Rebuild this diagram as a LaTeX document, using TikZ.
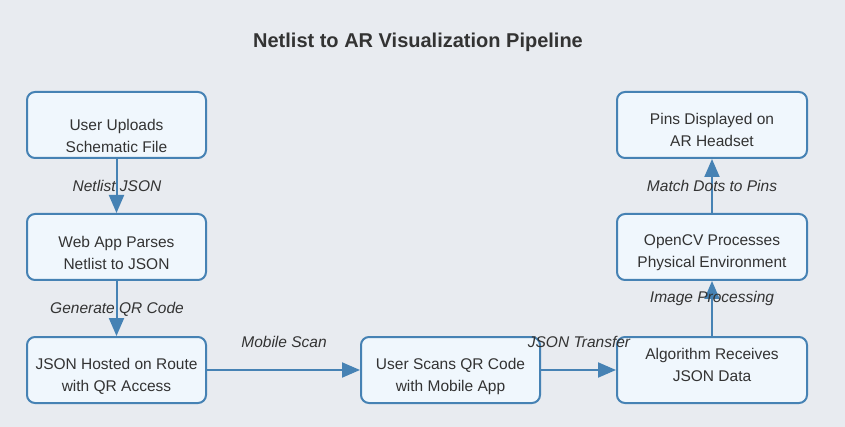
\documentclass[tikz,border=0pt]{standalone}
\usepackage{fontspec}
\setmainfont{Liberation Sans}
\usetikzlibrary{arrows.meta}
\definecolor{bg}{HTML}{E8EBF0}
\definecolor{boxfill}{HTML}{F0F7FD}
\definecolor{edge}{HTML}{4682B4}
\definecolor{txt}{HTML}{333333}
\begin{document}
\begin{tikzpicture}[x=1pt,y=-1pt,
  stage/.style={draw=edge, fill=boxfill, line width=2pt, rounded corners=8pt,
    minimum width=179pt, minimum height=66pt, inner sep=0pt},
  wide/.style={minimum width=190pt},
  btext/.style={text=txt, font=\fontsize{15.5}{22}\selectfont, align=center, inner sep=0pt},
  flow/.style={draw=edge, line width=2pt, -{Triangle[length=18pt,width=15pt]}},
  lbl/.style={text=txt, font=\fontsize{15.5}{18}\selectfont\itshape, inner sep=0pt}]
\fill[bg] (0,0) rectangle (845,427);
\useasboundingbox (0,0) rectangle (845,427);
\node[text=txt, font=\fontsize{20}{24}\selectfont\bfseries] (title) at (418,42) {Netlist to AR Visualization Pipeline};
\node[stage] (upload) at (116.5,125) {};
\node[stage] (parse) at (116.5,247) {};
\node[stage] (host) at (116.5,370) {};
\node[stage] (scan) at (450.5,370) {};
\node[stage,wide] (algo) at (712,370) {};
\node[stage,wide] (cv) at (712,247) {};
\node[stage,wide] (pins) at (712,125) {};
\node[btext] (tupload) at (116.5,136) {User Uploads\\Schematic File};
\node[btext] (tparse) at (116.5,253) {Web App Parses\\Netlist to JSON};
\node[btext] (thost) at (116.5,376) {JSON Hosted on Route\\with QR Access};
\node[btext] (tscan) at (450.5,376) {User Scans QR Code\\with Mobile App};
\node[btext] (talgo) at (712,365) {Algorithm Receives\\JSON Data};
\node[btext] (tcv) at (712,253) {OpenCV Processes\\Physical Environment};
\node[btext] (tpins) at (712,130) {Pins Displayed on\\AR Headset};
\draw[flow] (upload.south) -- (parse.north);
\draw[flow] (parse.south) -- (host.north);
\draw[flow] (host.east) -- (scan.west);
\draw[flow] (scan.east) -- (algo.west);
\draw[flow] (algo.north) -- (cv.south);
\draw[flow] (cv.north) -- (pins.south);
\node[lbl] (l1) at (117,186) {Netlist JSON};
\node[lbl] (l2) at (117,309) {Generate QR Code};
\node[lbl] (l3) at (284,342) {Mobile Scan};
\node[lbl] (l4) at (579,342) {JSON Transfer};
\node[lbl] (l5) at (712,186) {Match Dots to Pins};
\node[lbl] (l6) at (712,298) {Image Processing};
\end{tikzpicture}
\end{document}
